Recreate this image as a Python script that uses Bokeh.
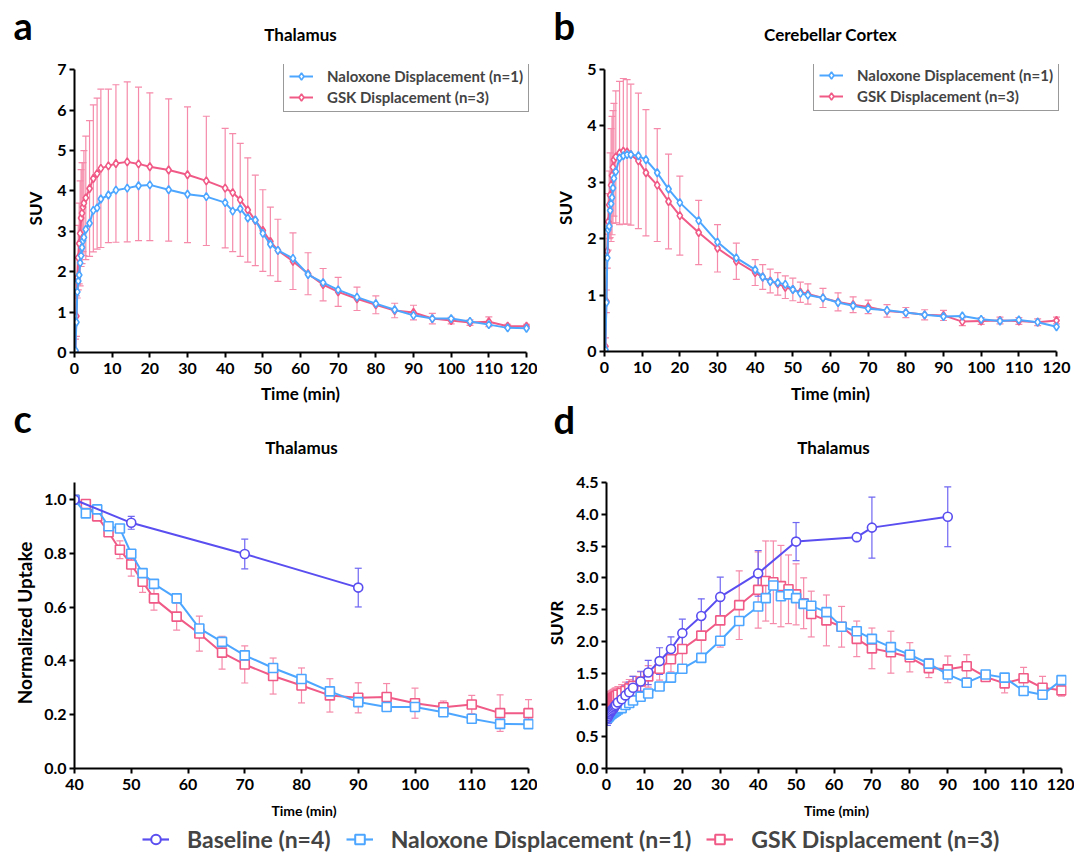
from bokeh.plotting import figure
from bokeh.models import (Range1d, FixedTicker, Whisker, TeeHead, ColumnDataSource,
                          Legend, LegendItem, CustomJSTickFormatter)
from bokeh.layouts import column, row
from bokeh.embed import file_html
from bokeh.resources import INLINE
from bokeh.core.properties import value

# ---------------- data ----------------
T_EARLY = [0.25, 0.5, 0.75, 1.0, 1.25, 1.5, 1.75, 2.0, 2.25, 2.5, 3.0]
T_LATE = [4, 5, 6, 7, 9, 11, 14, 17, 20, 25, 30, 35, 40, 42, 44, 46, 48, 50, 52, 54,
          58, 62, 66, 70, 75, 80, 85, 90, 95, 100, 105, 110, 115, 120]
T_FULL = T_EARLY + T_LATE

# Panel a: Thalamus SUV
a_nal = [0.05, 0.75, 1.5, 1.77, 1.92, 2.22, 2.4, 2.6, 2.77, 2.85, 3.05,
         3.2, 3.52, 3.58, 3.8, 3.9, 4.02, 4.07, 4.13, 4.15, 4.03, 3.92, 3.86, 3.71, 3.5,
         3.56, 3.33, 3.28, 2.95, 2.68, 2.53, 2.33, 1.93, 1.73, 1.55, 1.37, 1.21, 1.06,
         0.92, 0.84, 0.84, 0.77, 0.69, 0.61, 0.6]
a_gsk = [0.03, 0.9, 1.85, 2.35, 2.7, 2.95, 3.33, 3.45, 3.6, 3.7, 3.83,
         4.06, 4.31, 4.43, 4.56, 4.62, 4.68, 4.72, 4.67, 4.6, 4.52, 4.4, 4.25, 4.07, 3.96,
         3.78, 3.53, 3.27, 3.02, 2.75, 2.53, 2.26, 1.95, 1.68, 1.5, 1.33, 1.18, 1.04,
         0.99, 0.84, 0.79, 0.74, 0.76, 0.65, 0.65]
a_gsk_sd = [0.3, 0.5, 0.5, 0.8, 1.0, 1.3, 1.2, 1.25, 1.1, 1.3, 1.53,
            1.68, 1.82, 1.87, 1.96, 1.9, 1.95, 1.98, 1.9, 1.83, 1.76, 1.68, 1.6, 1.48, 1.46,
            1.4, 1.29, 1.12, 1.01, 0.85, 0.77, 0.7, 0.52, 0.4, 0.36, 0.29, 0.22, 0.18,
            0.18, 0.13, 0.08, 0.07, 0.12, 0.05, 0.05]

# Panel b: Cerebellar cortex SUV
b_nal = [0.03, 0.87, 1.66, 2.16, 2.22, 2.5, 2.62, 2.73, 2.9, 3.07, 3.19,
         3.43, 3.47, 3.49, 3.49, 3.47, 3.4, 3.17, 2.88, 2.64, 2.32, 1.94, 1.66, 1.45, 1.32,
         1.24, 1.22, 1.19, 1.1, 1.03, 1.0, 0.95, 0.87, 0.81, 0.76, 0.73, 0.69, 0.65,
         0.62, 0.63, 0.57, 0.54, 0.56, 0.52, 0.44]
b_gsk = [0.09, 0.89, 1.78, 2.3, 2.6, 2.77, 2.95, 3.12, 3.27, 3.4, 3.45,
         3.52, 3.55, 3.54, 3.49, 3.38, 3.17, 2.95, 2.66, 2.41, 2.11, 1.83, 1.6, 1.4, 1.32,
         1.25, 1.2, 1.14, 1.1, 1.05, 1.02, 0.95, 0.88, 0.83, 0.79, 0.72, 0.69, 0.65,
         0.64, 0.53, 0.54, 0.55, 0.54, 0.52, 0.55]
b_gsk_sd = [0.15, 0.2, 0.3, 0.5, 0.6, 0.75, 1.0, 1.05, 1.0, 1.0, 1.17,
            1.27, 1.29, 1.28, 1.25, 1.2, 1.12, 1.0, 0.84, 0.7, 0.57, 0.42, 0.32, 0.23, 0.22,
            0.21, 0.2, 0.2, 0.2, 0.18, 0.18, 0.17, 0.16, 0.14, 0.12, 0.11, 0.09, 0.09,
            0.09, 0.07, 0.06, 0.06, 0.06, 0.06, 0.06]

# Panel c: normalized uptake (thalamus)
c_time = [40, 42, 44, 46, 48, 50, 52, 54, 58, 62, 66, 70, 75, 80, 85, 90, 95, 100,
          105, 110, 115, 120]
c_nal = [1.0, 0.949, 0.964, 0.901, 0.893, 0.799, 0.727, 0.687, 0.633, 0.521, 0.471,
         0.421, 0.374, 0.333, 0.287, 0.247, 0.229, 0.229, 0.209, 0.185, 0.166, 0.165]
c_gsk = [1.0, 0.984, 0.938, 0.879, 0.814, 0.759, 0.695, 0.633, 0.565, 0.502, 0.431,
         0.387, 0.344, 0.309, 0.272, 0.263, 0.266, 0.243, 0.228, 0.238, 0.206, 0.206]
c_gsk_sd = [0.0, 0.008, 0.01, 0.015, 0.033, 0.043, 0.04, 0.044, 0.05, 0.065, 0.061,
            0.069, 0.067, 0.065, 0.062, 0.056, 0.05, 0.056, 0.023, 0.034, 0.068, 0.05]
c_base_time = [40, 50, 70, 90]
c_base = [1.0, 0.914, 0.798, 0.673]
c_base_sd = [0.0, 0.024, 0.055, 0.072]

# Panel d: SUVR (thalamus)
d_base_time = [0.25, 0.5, 0.75, 1.0, 1.25, 1.5, 1.75, 2.0, 2.25, 2.5, 3.0,
               4, 5, 6, 7, 9, 11, 14, 17, 20, 25, 30, 40, 50, 66, 70, 90]
d_base = [0.8, 0.83, 0.86, 0.88, 0.9, 0.92, 0.94, 0.96, 0.98, 1.0, 1.04,
          1.09, 1.15, 1.2, 1.27, 1.37, 1.51, 1.69, 1.88, 2.13, 2.4, 2.7, 3.07, 3.57,
          3.64, 3.79, 3.96]
d_base_sd = [0.12, 0.12, 0.12, 0.12, 0.12, 0.12, 0.12, 0.12, 0.12, 0.12, 0.13,
             0.14, 0.15, 0.16, 0.18, 0.16, 0.19, 0.21, 0.19, 0.22, 0.27, 0.31, 0.36, 0.3,
             0.02, 0.48, 0.47]
d_nal = [0.8, 0.81, 0.83, 0.85, 0.86, 0.87, 0.88, 0.89, 0.9, 0.91, 0.93,
         0.95, 1.0, 1.03, 1.07, 1.13, 1.18, 1.29, 1.43, 1.57, 1.74, 2.01, 2.32, 2.55, 2.68,
         2.88, 2.71, 2.74, 2.68, 2.59, 2.56, 2.46, 2.23, 2.16, 2.04, 1.91, 1.79, 1.65,
         1.48, 1.35, 1.48, 1.43, 1.22, 1.16, 1.39]
d_gsk = [1.05, 1.06, 1.07, 1.08, 1.09, 1.1, 1.11, 1.12, 1.13, 1.14, 1.16,
         1.19, 1.22, 1.26, 1.3, 1.37, 1.45, 1.57, 1.72, 1.88, 2.09, 2.33, 2.57, 2.81, 2.95,
         2.93, 2.87, 2.82, 2.74, 2.6, 2.43, 2.33, 2.23, 2.04, 1.89, 1.83, 1.75, 1.58,
         1.56, 1.61, 1.44, 1.34, 1.42, 1.27, 1.23]
d_gsk_sd = [0.13, 0.13, 0.13, 0.13, 0.13, 0.13, 0.13, 0.13, 0.13, 0.13, 0.13,
            0.13, 0.14, 0.14, 0.15, 0.15, 0.17, 0.18, 0.2, 0.25, 0.35, 0.42, 0.54, 0.6, 0.63,
            0.65, 0.64, 0.54, 0.48, 0.4, 0.36, 0.4, 0.32, 0.28, 0.32, 0.33, 0.23, 0.15,
            0.21, 0.18, 0.05, 0.15, 0.17, 0.18, 0.09]

LABEL_NAL = "Naloxone Displacement (n=1)"
LABEL_GSK = "GSK Displacement (n=3)"
LABEL_BASE = "Baseline (n=4)"
PANEL_LETTERS = ["a", "b", "c", "d"]
PANEL_TITLES = ["Thalamus", "Cerebellar Cortex", "Thalamus", "Thalamus"]
TIME_LABEL = "Time (min)"

# ---------------- style ----------------
BLUE = "#4da6ff"
PINK = "#f05a86"
PINK_ERR = "#f58aaa"
PURPLE = "#5a4ef0"
PURPLE_ERR = "#6f66f2"
FONT = "Lato"
W = 1074
BASE_SHIFT = 0.42   # Bokeh baseline offset correction (fraction of font size)


def build(fig_left, fig_top, fig_w, fig_h, xd, xp, yd, yp, pad=5):
    """Axis 0-points sit exactly on frame left/bottom; pad only right and top."""
    sx = (xp[1] - xp[0]) / (xd[1] - xd[0])
    sy = (yp[0] - yp[1]) / (yd[1] - yd[0])
    fl = xp[0]
    ft = yp[1] - pad
    fw = round(xp[1] - xp[0] + pad)
    fh = round(yp[0] - ft)
    mbl = round(fl - fig_left)
    mbt = round(ft - fig_top)
    p = figure(frame_width=fw, frame_height=fh,
               x_range=Range1d(xd[0], xd[0] + fw / sx),
               y_range=Range1d(yd[0], yd[0] + fh / sy),
               toolbar_location=None, output_backend="svg",
               min_border_left=mbl, min_border_top=mbt,
               min_border_right=fig_w - mbl - fw,
               min_border_bottom=fig_h - mbt - fh)
    p.outline_line_color = None
    p.xgrid.visible = False
    p.ygrid.visible = False
    for ax in (p.xaxis[0], p.yaxis[0]):
        ax.axis_line_width = 2
        ax.axis_line_color = "black"
        ax.major_tick_line_width = 2
        ax.major_tick_line_color = "black"
        ax.major_tick_out = 5
        ax.major_tick_in = 0
        ax.minor_tick_line_color = None
        ax.major_label_text_font = FONT
        ax.major_label_text_font_style = "bold"
        ax.major_label_text_font_size = "16px"
        ax.major_label_text_color = "black"
        ax.axis_label_text_font = FONT
        ax.axis_label_text_font_style = "bold"
        ax.axis_label_text_font_size = "17px"
        ax.axis_label_text_color = "black"
    p.xaxis[0].bounds = (xd[0], xd[1])
    p.yaxis[0].bounds = (yd[0], yd[1])
    p.xaxis[0].major_label_standoff = 5
    p.yaxis[0].major_label_standoff = 3
    p.tags = [fl, ft + fh]
    return p


def header(top, height, texts):
    """Strip of free text (page pixel coords): (x, baseline_y, text, size_px, align)."""
    h = figure(width=W, height=height, toolbar_location=None, output_backend="svg",
               x_range=Range1d(0, W), y_range=Range1d(top + height, top), min_border=0)
    h.axis.visible = False
    h.grid.visible = False
    h.outline_line_color = None
    for x, y, t, size, align in texts:
        h.text(x=[x], y=[y - BASE_SHIFT * size], text=[t], text_font=value(FONT),
               text_font_style="bold", text_font_size=f"{size}px",
               text_baseline="alphabetic", text_align=align, text_color="black")
    return h


def errorbars(p, xs, ys, sds, color):
    src = ColumnDataSource(dict(x=xs, lo=[y - s for y, s in zip(ys, sds)],
                                hi=[y + s for y, s in zip(ys, sds)]))
    w = Whisker(base="x", lower="lo", upper="hi", source=src, line_color=color,
                line_width=1.2,
                upper_head=TeeHead(size=7, line_color=color, line_width=1.2),
                lower_head=TeeHead(size=7, line_color=color, line_width=1.2))
    p.add_layout(w)


def series(p, xs, ys, color, marker, size, lw=2.0):
    l = p.line(xs, ys, line_color=color, line_width=lw)
    s = p.scatter(xs, ys, marker=marker, size=size, fill_color="white",
                  line_color=color, line_width=1.6)
    return l, s


def box_legend(p, items, page_left, page_bottom):
    fl, fb = p.tags
    lg = Legend(items=items, location=(page_left - fl, fb - page_bottom),
                border_line_color="#333333", border_line_width=1.5,
                background_fill_color="white", background_fill_alpha=1.0,
                padding=5, spacing=3, margin=0, glyph_width=24, glyph_height=18,
                label_standoff=14, label_text_font=FONT, label_text_font_style="bold",
                label_text_font_size="15px", label_height=18)
    p.add_layout(lg)


# ---------------- headers ----------------
TOP1, H1 = 0, 50
TOP2, H2 = 382, 82
head1 = header(TOP1, H1, [(13, 40, PANEL_LETTERS[0], 38, "left"),
                          (553, 40, PANEL_LETTERS[1], 38, "left"),
                          (300, 41, PANEL_TITLES[0], 17, "center"),
                          (830, 41, PANEL_TITLES[1], 17, "center")])
head2 = header(TOP2, H2, [(300, 400, TIME_LABEL, 17, "center"),
                          (830, 400, TIME_LABEL, 17, "center"),
                          (13, 433, PANEL_LETTERS[2], 38, "left"),
                          (553, 434, PANEL_LETTERS[3], 38, "left"),
                          (301, 454, PANEL_TITLES[2], 17, "center"),
                          (833, 454, PANEL_TITLES[3], 17, "center")])


def suv_panel(fig_left, xp, yp, ymax, yticks):
    p = build(fig_left, TOP1 + H1, 537, TOP2 - TOP1 - H1, (0, 120), xp, (0, ymax), yp)
    p.xaxis[0].ticker = FixedTicker(ticks=list(range(0, 121, 10)))
    p.yaxis[0].ticker = FixedTicker(ticks=yticks)
    p.yaxis[0].axis_label = "SUV"
    p.yaxis[0].axis_label_standoff = 8
    return p


# ---------------- panel a ----------------
pa = suv_panel(0, (74, 526), (351, 68.3), 7, list(range(0, 8)))
errorbars(pa, T_FULL, a_gsk, a_gsk_sd, PINK_ERR)
la_g, sa_g = series(pa, T_FULL, a_gsk, PINK, "diamond", 8)
la_n, sa_n = series(pa, T_FULL, a_nal, BLUE, "diamond", 8)

# ---------------- panel b ----------------
pb = suv_panel(537, (604, 1056), (351, 69), 5, list(range(0, 6)))
errorbars(pb, T_FULL, b_gsk, b_gsk_sd, PINK_ERR)
lb_g, sb_g = series(pb, T_FULL, b_gsk, PINK, "diamond", 8)
lb_n, sb_n = series(pb, T_FULL, b_nal, BLUE, "diamond", 8)

box_legend(pa, [LegendItem(label=LABEL_NAL, renderers=[la_n, sa_n]),
                LegendItem(label=LABEL_GSK, renderers=[la_g, sa_g])], 283, 111)
box_legend(pb, [LegendItem(label=LABEL_NAL, renderers=[lb_n, sb_n]),
                LegendItem(label=LABEL_GSK, renderers=[lb_g, sb_g])], 813, 111)

# ---------------- panel c ----------------
TOP3 = TOP2 + H2
BOT3 = 826
pc = build(0, TOP3, 537, BOT3 - TOP3, (40, 120), (74, 528), (0, 1.064), (768, 482))
pc.xaxis[0].ticker = FixedTicker(ticks=list(range(40, 121, 10)))
pc.yaxis[0].ticker = FixedTicker(ticks=[0.0, 0.2, 0.4, 0.6, 0.8, 1.0])
pc.yaxis[0].formatter = CustomJSTickFormatter(code="return tick.toFixed(1);")
pc.xaxis[0].axis_label = TIME_LABEL
pc.yaxis[0].axis_label = "Normalized Uptake"
pc.xaxis[0].axis_label_text_font_size = "14px"
pc.yaxis[0].axis_label_text_font_size = "19px"
pc.xaxis[0].axis_label_standoff = 9
pc.yaxis[0].axis_label_standoff = 5
errorbars(pc, c_time, c_gsk, c_gsk_sd, PINK_ERR)
errorbars(pc, c_base_time, c_base, c_base_sd, PURPLE_ERR)
series(pc, c_time, c_gsk, PINK, "square", 9)
series(pc, c_time, c_nal, BLUE, "square", 9)
series(pc, c_base_time, c_base, PURPLE, "circle", 9)

# ---------------- panel d ----------------
pd_ = build(537, TOP3, 537, BOT3 - TOP3, (0, 120), (606, 1061), (0, 4.5), (768, 482))
pd_.xaxis[0].ticker = FixedTicker(ticks=list(range(0, 121, 10)))
pd_.yaxis[0].ticker = FixedTicker(ticks=[0, 0.5, 1.0, 1.5, 2.0, 2.5, 3.0, 3.5, 4.0, 4.5])
pd_.yaxis[0].formatter = CustomJSTickFormatter(code="return tick.toFixed(1);")
pd_.xaxis[0].axis_label = TIME_LABEL
pd_.yaxis[0].axis_label = "SUVR"
pd_.xaxis[0].axis_label_text_font_size = "14px"
pd_.xaxis[0].axis_label_standoff = 9
pd_.yaxis[0].axis_label_standoff = 6
errorbars(pd_, T_FULL, d_gsk, d_gsk_sd, PINK_ERR)
errorbars(pd_, d_base_time, d_base, d_base_sd, PURPLE_ERR)
series(pd_, T_FULL, d_gsk, PINK, "square", 9)
series(pd_, T_FULL, d_nal, BLUE, "square", 9)
series(pd_, d_base_time, d_base, PURPLE, "circle", 9)

# ---------------- shared legend ----------------
HL = 855 - BOT3
pl = figure(width=W, height=HL, toolbar_location=None, output_backend="svg",
            x_range=Range1d(0, 1), y_range=Range1d(0, 1), min_border=0)
pl.axis.visible = False
pl.grid.visible = False
pl.outline_line_color = None
items = []
for lab, col, mk in [(LABEL_BASE, PURPLE, "circle"), (LABEL_NAL, BLUE, "square"),
                     (LABEL_GSK, PINK, "square")]:
    l = pl.line([-5, -4], [-5, -4], line_color=col, line_width=2.2)
    s = pl.scatter([-5], [-5], marker=mk, size=11, fill_color="white", line_color=col,
                   line_width=2)
    items.append(LegendItem(label=lab, renderers=[l, s]))
pl.add_layout(Legend(items=items, orientation="horizontal", location=(142, 2),
                     border_line_color=None, background_fill_alpha=0, padding=0,
                     margin=0, spacing=15, glyph_width=27, glyph_height=24,
                     label_standoff=18, label_text_font=FONT,
                     label_text_font_style="bold", label_text_font_size="23px",
                     label_height=24))

layout = column(head1, row(pa, pb), head2, row(pc, pd_), pl)
open("out.html", "w").write(file_html(layout, INLINE))
